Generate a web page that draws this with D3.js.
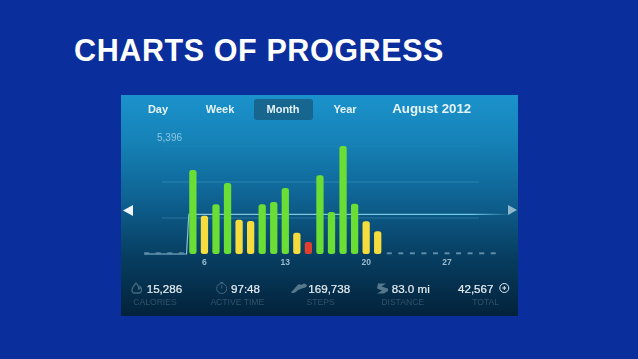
<!DOCTYPE html>
<html>
<head>
<meta charset="utf-8">
<script src="https://cdn.jsdelivr.net/npm/d3@7"></script>
<style>
    html, body { margin: 0; padding: 0; background: #0a2e9c; overflow: hidden; }
    text { font-family: "Liberation Sans", Arial, sans-serif; }
</style>
</head>
<body>
<div id="chart"></div>
<script>
    "use strict";

    // daily steps for August 2012
    const days = d3.range(1, 32);
    const steps = [60, 60, 60, 60, 4197, 1914, 2483, 3547, 1714, 1649, 2483, 2598, 3298, 1064, 600,
        3932, 2098, 5396, 2513, 1634, 1134, 60, 60, 60, 60, 60, 60, 60, 60, 60, 60];
    const dayTicks = [6, 13, 20, 27];
    const gridValues = [1799, 3597, 5396];
    const maxLabel = "5,396";

    // average line: [day, value]
    const averageDays = [0.8, 4.45, 4.65, 32.5];
    const averageValues = [0, 0, 1984, 1984];

    const tabs = ["Day", "Week", "Month", "Year"];
    const period = "August 2012";
    const statValues = ["15,286", "97:48", "169,738", "83.0 mi", "42,567"];
    const statLabels = ["CALORIES", "ACTIVE TIME", "STEPS", "DISTANCE", "TOTAL"];

    const width = 638;
    const height = 359;
    const panel = { x: 121, y: 95, width: 397, height: 221 };

    // colour depends on how close to the daily goal the day came
    function barColor(value) {
        if (value < 900) {
            return "#e2402e";
        }
        return value < 2000 ? "#f7dc3e" : "#6ade35";
    }

    function draw() {
        let svg = d3.select("#chart").append("svg")
            .attr("width", width)
            .attr("height", height)
            .style("display", "block");

        let defs = svg.append("defs");

        let panelGradient = defs.append("linearGradient")
            .attr("id", "panelGradient")
            .attr("x1", 0).attr("y1", 0).attr("x2", 0).attr("y2", 1);
        panelGradient.selectAll("stop")
            .data([[0, "#1b92cc"], [0.2, "#1683b8"], [0.45, "#0f6595"], [0.72, "#073f63"], [1, "#03223a"]])
            .enter()
            .append("stop")
            .attr("offset", d => d[0])
            .attr("stop-color", d => d[1]);

        let lineGradient = defs.append("linearGradient")
            .attr("id", "lineGradient")
            .attr("gradientUnits", "userSpaceOnUse")
            .attr("x1", 180).attr("y1", 0).attr("x2", 512).attr("y2", 0);
        lineGradient.selectAll("stop")
            .data([[0, "#9fd4e6", 0.85], [0.88, "#6fd0ea", 0.95], [1, "#6fd0ea", 0]])
            .enter()
            .append("stop")
            .attr("offset", d => d[0])
            .attr("stop-color", d => d[1])
            .attr("stop-opacity", d => d[2]);

        defs.append("filter")
            .attr("id", "soft")
            .append("feGaussianBlur")
            .attr("stdDeviation", 0.45);

        // slide title
        svg.append("text")
            .attr("x", 74)
            .attr("y", 60.5)
            .attr("fill", "#ffffff")
            .style("font-size", "30.5px")
            .style("letter-spacing", "0.6px")
            .style("font-weight", "bold")
            .text("CHARTS OF PROGRESS");

        svg.append("rect")
            .attr("x", panel.x)
            .attr("y", panel.y)
            .attr("width", panel.width)
            .attr("height", panel.height)
            .attr("fill", "url(#panelGradient)");

        let content = svg.append("g").attr("filter", "url(#soft)");

        // scales
        let xScale = d3.scaleBand()
            .domain(days)
            .range([140.9, 499])
            .paddingInner(0.37)
            .paddingOuter(0.185);
        let xCenter = d => xScale(d) + xScale.bandwidth() / 2;
        let xLinear = d3.scaleLinear()
            .domain([1, 31])
            .range([xCenter(1), xCenter(31)]);
        let yScale = d3.scaleLinear()
            .domain([0, 5396])
            .range([254, 146]);

        // top tabs
        content.append("rect")
            .attr("x", 254)
            .attr("y", 99)
            .attr("width", 59)
            .attr("height", 21)
            .attr("rx", 3)
            .attr("fill", "#14668f");

        let tabX = [158, 220, 283, 345];
        content.selectAll(".tab")
            .data(tabs)
            .enter()
            .append("text")
            .attr("class", "tab")
            .attr("x", (d, i) => tabX[i])
            .attr("y", 113)
            .attr("text-anchor", "middle")
            .attr("fill", "#e6f3f8")
            .style("font-size", "11px")
            .style("font-weight", "bold")
            .text(d => d);

        content.append("text")
            .attr("x", 431.7)
            .attr("y", 113)
            .attr("text-anchor", "middle")
            .attr("fill", "#e6f3f8")
            .style("font-size", "13.3px")
            .style("font-weight", "bold")
            .text(period);

        // grid lines
        content.selectAll(".grid")
            .data(gridValues)
            .enter()
            .append("line")
            .attr("class", "grid")
            .attr("x1", 162)
            .attr("x2", 479)
            .attr("y1", d => yScale(d))
            .attr("y2", d => yScale(d))
            .attr("stroke", "#5cb6d6")
            .attr("stroke-opacity", (d, i) => i === 2 ? 0.15 : 0.4)
            .attr("stroke-width", 0.8);

        content.append("text")
            .attr("x", 157)
            .attr("y", 141)
            .attr("fill", "#8cc7e2")
            .style("font-size", "10px")
            .text(maxLabel);

        // average line
        let averageLine = d3.line()
            .x(d => xLinear(d[0]))
            .y(d => yScale(d[1]));
        content.append("path")
            .attr("d", averageLine(d3.zip(averageDays, averageValues)))
            .attr("fill", "none")
            .attr("stroke", "url(#lineGradient)")
            .attr("stroke-width", 1.2);

        // bars
        content.selectAll(".bar")
            .data(days.filter((d, i) => steps[i] > 100))
            .enter()
            .append("rect")
            .attr("class", "bar")
            .attr("x", d => xScale(d))
            .attr("y", d => yScale(steps[d - 1]))
            .attr("width", xScale.bandwidth())
            .attr("height", d => yScale(0) - yScale(steps[d - 1]))
            .attr("rx", 2.5)
            .attr("fill", d => barColor(steps[d - 1]));

        // days without data are just small dashes
        content.selectAll(".dash")
            .data(days.filter((d, i) => steps[i] <= 100))
            .enter()
            .append("rect")
            .attr("class", "dash")
            .attr("x", d => xCenter(d) - 2.5)
            .attr("y", d => yScale(steps[d - 1]) - 0.5)
            .attr("width", 5)
            .attr("height", 2)
            .attr("fill", "#5f8ba6");

        // x axis
        let xAxis = d3.axisBottom(xScale)
            .tickValues(dayTicks)
            .tickSize(0)
            .tickPadding(0);
        let axisG = content.append("g")
            .attr("transform", "translate(0,258.5)")
            .call(xAxis);
        axisG.select(".domain").remove();
        axisG.selectAll("text")
            .attr("fill", "#9dbccb")
            .style("font-size", "8.5px")
            .style("font-weight", "bold")
            .style("font-family", "\"Liberation Sans\", Arial, sans-serif");

        // side arrows
        content.append("path")
            .attr("d", "M123 210.5L133 205V216Z")
            .attr("fill", "#f0f6f8");
        content.append("path")
            .attr("d", "M517 210L508 205V215Z")
            .attr("fill", "#8fb8cc");

        // stats row
        let statValueX = [146.7, 231, 308.3, 391.7, 458];
        let statLabelX = [155, 237.3, 320.7, 402.7, 485.7];
        content.selectAll(".stat-value")
            .data(statValues)
            .enter()
            .append("text")
            .attr("class", "stat-value")
            .attr("x", (d, i) => statValueX[i])
            .attr("y", 292.5)
            .attr("fill", "#e6eef2")
            .attr("stroke", "#e6eef2")
            .attr("stroke-width", 0.2)
            .style("font-size", "11.6px")
            .text(d => d);

        content.selectAll(".stat-label")
            .data(statLabels)
            .enter()
            .append("text")
            .attr("class", "stat-label")
            .attr("x", (d, i) => statLabelX[i])
            .attr("y", 305)
            .attr("text-anchor", "middle")
            .attr("fill", "#2f5268")
            .style("font-size", "8.6px")
            .text(d => d);

        // stat icons
        content.append("path")
            .attr("d", "M136 283C138 285 139 287 138.5 289C140 289 140 287.5 140 286.5C142.5 289 142 292.5 139 293H134C130.5 292 131.5 288 136 283Z")
            .attr("fill", "none")
            .attr("stroke", "#45667c")
            .attr("stroke-width", 1.3);
        content.append("circle")
            .attr("cx", 221.7)
            .attr("cy", 288.5)
            .attr("r", 5)
            .attr("fill", "none")
            .attr("stroke", "#45667c")
            .attr("stroke-width", 1);
        content.append("path")
            .attr("d", "M221.7 288.5V285.5M220.2 282.5H223.2")
            .attr("stroke", "#45667c")
            .attr("stroke-width", 1);
        content.append("path")
            .attr("d", "M291 292C294 290 296 286 299 284L301 285L304 283.5C306 284 307 285 307 286C304 289 300 288 297 291C295 293 292 294 291 292Z")
            .attr("fill", "#54788d");
        content.append("path")
            .attr("d", "M378 283.5H386L381.5 286.5L388 288.5V291L384 293.5H377L382 290.5L377 288.5Z")
            .attr("fill", "#54788d");
        content.append("circle")
            .attr("cx", 504.3)
            .attr("cy", 288)
            .attr("r", 4.5)
            .attr("fill", "none")
            .attr("stroke", "#dfe9ee")
            .attr("stroke-width", 1);
        content.append("path")
            .attr("d", "M502.3 288H506.3M504.3 286V290")
            .attr("stroke", "#dfe9ee")
            .attr("stroke-width", 1);
    }

    draw();
</script>
</body>
</html>
